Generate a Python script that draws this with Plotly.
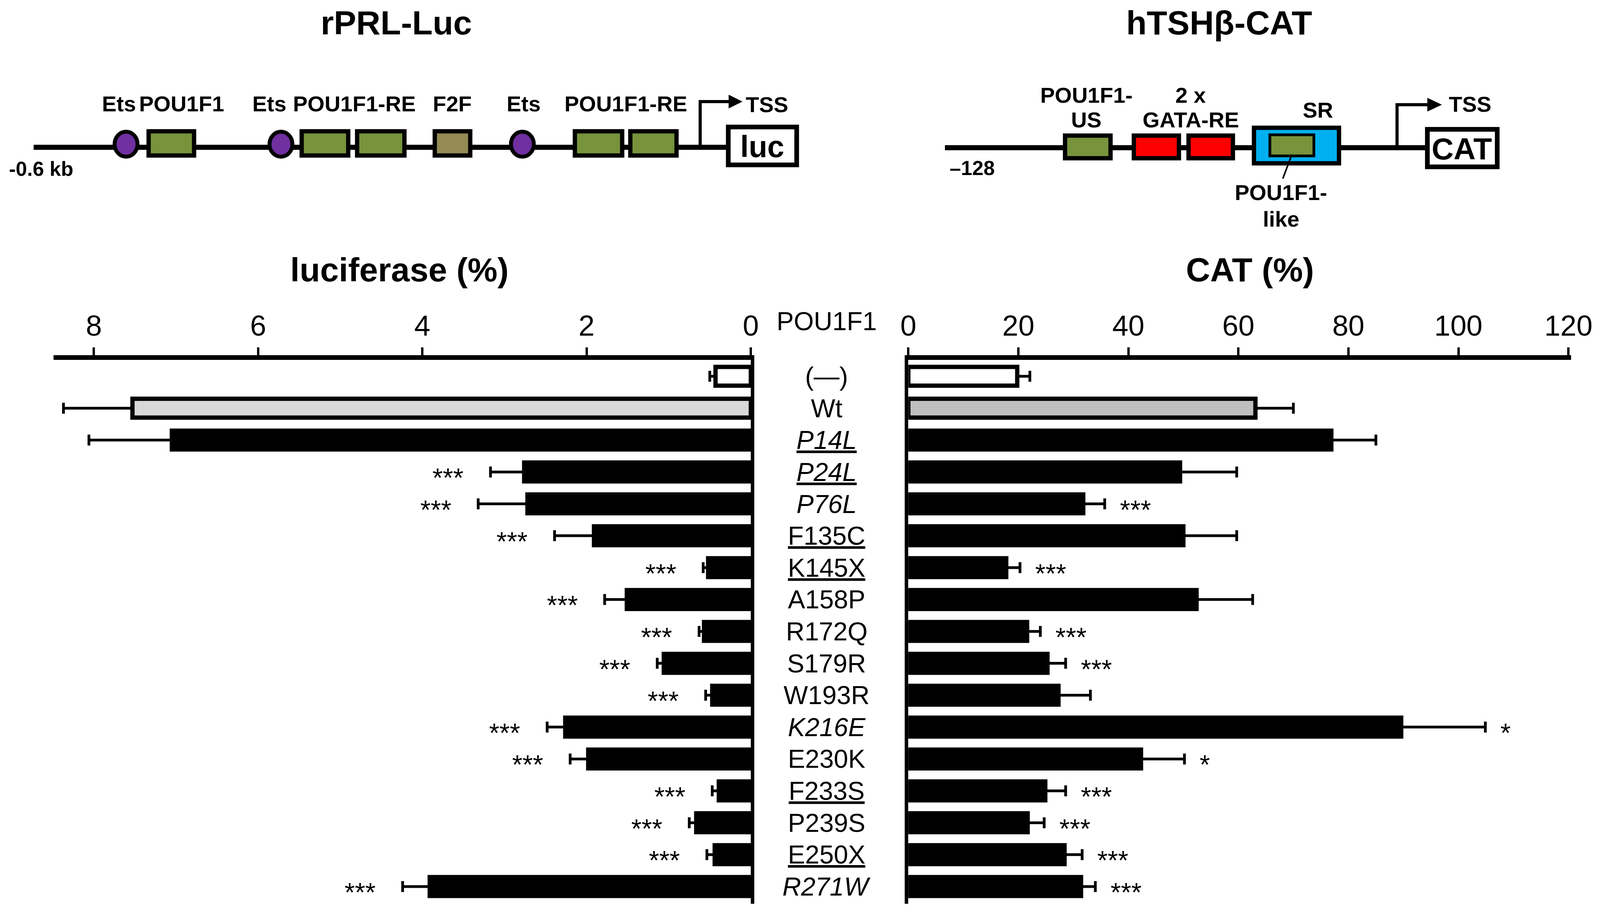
import plotly.graph_objects as go

W, H = 4328, 2352  # reference frame used for all positions (as fractions of the page)

# ---------------- data ----------------
categories = ["(—)", "Wt", "P14L", "P24L", "P76L", "F135C", "K145X", "A158P", "R172Q",
              "S179R", "W193R", "K216E", "E230K", "F233S", "P239S", "E250X", "R271W"]
italic_labels = ["P14L", "P24L", "P76L", "K216E", "R271W"]
underlined_labels = ["P14L", "P24L", "F135C", "K145X", "F233S", "E250X"]

luc = [0.43, 7.53, 7.05, 2.76, 2.72, 1.91, 0.52, 1.51, 0.57, 1.06, 0.47, 2.26, 1.98, 0.39, 0.665, 0.44, 3.91]
luc_err = [0.07, 0.84, 1.01, 0.41, 0.60, 0.48, 0.06, 0.27, 0.06, 0.08, 0.08, 0.22, 0.22, 0.08, 0.085, 0.095, 0.33]
luc_stars = ["", "", "", "***", "***", "***", "***", "***", "***", "***", "***", "***", "***", "***", "***", "***", "***"]

cat = [19.8, 63.1, 76.9, 49.4, 31.8, 50.0, 17.8, 52.4, 21.6, 25.3, 27.3, 89.6, 42.3, 24.9, 21.7, 28.4, 31.4]
cat_err = [2.3, 6.9, 8.1, 10.3, 3.9, 9.7, 2.5, 10.2, 2.4, 3.3, 5.8, 15.3, 7.9, 3.7, 3.0, 3.2, 2.6]
cat_stars = ["", "", "", "", "***", "", "***", "", "***", "***", "", "*", "*", "***", "***", "***", "***"]

luc_ticks = [0, 2, 4, 6, 8]
cat_ticks = [0, 20, 40, 60, 80, 100, 120]

FONT = "Liberation Sans, Arial, Helvetica, sans-serif"


def X(px):
    return px / W


def Y(py):
    return 1 - py / H


n = len(categories)
colors_l = ["white", "#D9D9D9"] + ["black"] * (n - 2)
colors_r = ["white", "#BFBFBF"] + ["black"] * (n - 2)

fig = go.Figure()
fig.add_trace(go.Bar(
    x=luc, y=categories, orientation="h", xaxis="x", yaxis="y",
    marker=dict(color=colors_l, line=dict(color="black", width=11)),
    width=0.59,
    error_x=dict(type="data", array=luc_err, arrayminus=[0] * n, symmetric=False,
                 color="black", thickness=7, width=14),
    showlegend=False, hoverinfo="skip"))
fig.add_trace(go.Bar(
    x=cat, y=categories, orientation="h", xaxis="x2", yaxis="y2",
    marker=dict(color=colors_r, line=dict(color="black", width=11)),
    width=0.59,
    error_x=dict(type="data", array=cat_err, arrayminus=[0] * n, symmetric=False,
                 color="black", thickness=7, width=14),
    showlegend=False, hoverinfo="skip"))

yrange = [16.54, -0.515]
ydom = [Y(2313), Y(921)]
common_x = dict(side="top", ticks="outside", ticklen=20, tickwidth=6, tickcolor="black",
                showline=True, linewidth=12, linecolor="black", showgrid=False, zeroline=False,
                tickfont=dict(family=FONT, size=74, color="black"))
common_y = dict(domain=ydom, type="category", categoryorder="array", categoryarray=categories,
                range=yrange, showline=True, linewidth=9, linecolor="black",
                showticklabels=False, ticks="", showgrid=False, zeroline=False)

fig.update_layout(
    autosize=True, height=H, margin=dict(l=0, r=0, t=0, b=0, autoexpand=False),
    paper_bgcolor="white", plot_bgcolor="white",
    bargap=0.3,
    xaxis=dict(domain=[X(145), X(2031)], range=[8.49, 0], tickvals=luc_ticks, anchor="y", **common_x),
    yaxis=dict(anchor="x", side="right", **common_y),
    xaxis2=dict(domain=[X(2457), X(4250)], range=[0, 120.5], tickvals=cat_ticks, anchor="y2", **common_x),
    yaxis2=dict(anchor="x2", side="left", **common_y),
)

ann = []


def text(xp, yp, t, size=56, bold=True, **kw):
    ann.append(dict(x=X(xp), y=Y(yp), xref="paper", yref="paper", text=(f"<b>{t}</b>" if bold else t),
                    showarrow=False, xanchor="center", yanchor="middle",
                    font=dict(family=FONT, size=size, color="black"), **kw))


# titles
text(1072, 58, "rPRL-Luc", 86)
text(3298, 58, "hTSHβ-CAT", 86)
text(1080, 690, "luciferase (%)", 86)
text(3381, 690, "CAT (%)", 86)
text(2236, 822, "POU1F1", 66, bold=False)

# category labels
for c in categories:
    t = c
    if c in italic_labels:
        t = f"<i>{t}</i>"
    if c in underlined_labels:
        t = f"<u>{t}</u>"
    ann.append(dict(x=X(2236), y=c, xref="paper", yref="y", text=t, showarrow=False,
                    xanchor="center", yanchor="middle",
                    font=dict(family=FONT, size=66, color="black")))

# significance stars
for c, v, e, s in zip(categories, luc, luc_err, luc_stars):
    if s:
        ann.append(dict(x=v + e + 0.32, y=c, xref="x", yref="y", text=s, showarrow=False,
                        xanchor="right", yanchor="middle", yshift=-14,
                        font=dict(family=FONT, size=68, color="black")))
for c, v, e, s in zip(categories, cat, cat_err, cat_stars):
    if s:
        ann.append(dict(x=v + e + 2.6, y=c, xref="x2", yref="y2", text=s, showarrow=False,
                        xanchor="left", yanchor="middle", yshift=-14,
                        font=dict(family=FONT, size=68, color="black")))

# ---------- promoter diagrams ----------
shapes = []


def line(x0, y0, x1, y1, w=13, color="black"):
    shapes.append(dict(type="line", xref="paper", yref="paper", x0=X(x0), y0=Y(y0), x1=X(x1), y1=Y(y1),
                       line=dict(color=color, width=w)))


def rect(x0, y0, x1, y1, fill, w=11):
    shapes.append(dict(type="rect", xref="paper", yref="paper", x0=X(x0), y0=Y(y0), x1=X(x1), y1=Y(y1),
                       fillcolor=fill, line=dict(color="black", width=w)))


def circle(cx, cy, rx, ry, fill, w=10):
    shapes.append(dict(type="circle", xref="paper", yref="paper", x0=X(cx - rx), y0=Y(cy - ry),
                       x1=X(cx + rx), y1=Y(cy + ry), fillcolor=fill, line=dict(color="black", width=w)))


def path(d_pts, fill=None, w=7, closed=False):
    d = "M " + " L ".join(f"{X(a):.6f},{Y(b):.6f}" for a, b in d_pts)
    if closed:
        d += " Z"
    s = dict(type="path", xref="paper", yref="paper", path=d, line=dict(color="black", width=w))
    if fill:
        s["fillcolor"] = fill
    shapes.append(s)


GREEN = "#77933C"
PURPLE = "#7030A0"
KHAKI = "#948A54"
RED = "#FF0000"
BLUE = "#00B0F0"

# left: rPRL-Luc
line(91, 377, 1964, 377)
circle(341, 369, 31, 32, PURPLE)
rect(402, 336, 525, 398, GREEN)
circle(760, 369, 31, 32, PURPLE)
rect(816, 336, 942, 398, GREEN)
rect(966, 336, 1094, 398, GREEN)
rect(1176, 336, 1272, 398, KHAKI)
circle(1413, 369, 31, 32, PURPLE)
rect(1555, 336, 1683, 398, GREEN)
rect(1705, 336, 1830, 398, GREEN)
path([(1894, 377), (1894, 260), (1975, 260)], w=8)
path([(1972, 244), (2006, 260), (1972, 276)], fill="black", w=2, closed=True)
rect(1970, 325, 2155, 422, "white", w=12)
text(2062, 375, "luc", 78)
text(2075, 268, "TSS", 56)
text(112, 432, "-0.6 kb", 52)
text(322, 265, "Ets")
text(491, 265, "POU1F1")
text(729, 265, "Ets")
text(958, 265, "POU1F1-RE")
text(1224, 265, "F2F")
text(1416, 265, "Ets")
text(1693, 265, "POU1F1-RE")

# right: hTSHb-CAT
line(2556, 378, 3855, 378)
rect(2881, 347, 3004, 405, GREEN)
rect(3067, 347, 3189, 405, RED)
rect(3215, 347, 3335, 405, RED)
rect(3392, 327, 3622, 418, BLUE)
rect(3435, 345, 3554, 399, GREEN, w=7)
line(3492, 402, 3470, 457, w=4)
path([(3779, 378), (3779, 268), (3865, 268)], w=8)
path([(3862, 252), (3898, 268), (3862, 284)], fill="black", w=2, closed=True)
rect(3861, 331, 4050, 427, "white", w=12)
text(3955, 381, "CAT", 78)
text(3977, 266, "TSS", 56)
text(2630, 430, "–128", 52)
text(2939, 243, "POU1F1-")
text(2939, 307, "US")
text(3221, 243, "2 x")
text(3221, 307, "GATA-RE")
text(3565, 281, "SR")
text(3465, 493, "POU1F1-")
text(3465, 560, "like")

fig.update_layout(annotations=ann, shapes=shapes)
fig.write_html(
    "out.html",
    config={"displayModeBar": False},
    post_script=("document.body.style.margin='0';document.body.style.overflow='hidden';"
                 "Plotly.Plots.resize(document.getElementById('{plot_id}'));"),
)
